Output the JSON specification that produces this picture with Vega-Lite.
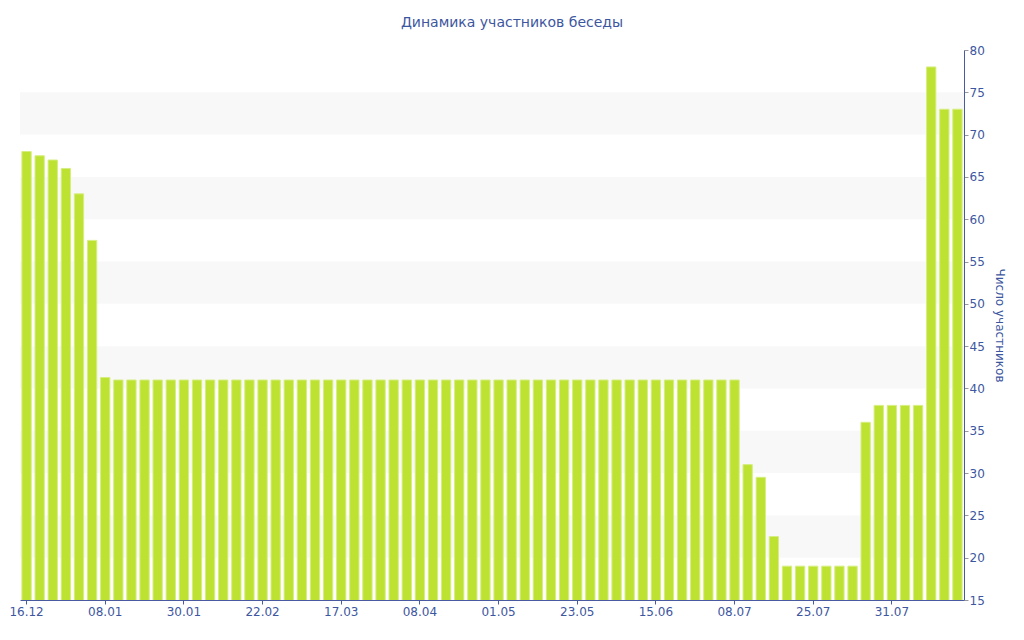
{
  "$schema": "https://vega.github.io/schema/vega-lite/v6.json",
  "description": "Динамика участников беседы",
  "autosize": "none",
  "width": 944,
  "height": 550,
  "padding": {"top": 50, "left": 20, "right": 60, "bottom": 40},
  "background": "#ffffff",
  "title": {
    "text": "Динамика участников беседы",
    "anchor": "middle",
    "dx": 20,
    "offset": 14,
    "font": "DejaVu Sans",
    "fontSize": 14,
    "fontWeight": "normal",
    "color": "#3d56a0"
  },
  "datasets": {
    "bands": [
      {"lo": 20, "hi": 25},
      {"lo": 30, "hi": 35},
      {"lo": 40, "hi": 45},
      {"lo": 50, "hi": 55},
      {"lo": 60, "hi": 65},
      {"lo": 70, "hi": 75}
    ],
    "members": [
      {"i": 0, "v": 68}, {"i": 1, "v": 67.5}, {"i": 2, "v": 67}, {"i": 3, "v": 66},
      {"i": 4, "v": 63}, {"i": 5, "v": 57.5}, {"i": 6, "v": 41.3}, {"i": 7, "v": 41},
      {"i": 8, "v": 41}, {"i": 9, "v": 41}, {"i": 10, "v": 41}, {"i": 11, "v": 41},
      {"i": 12, "v": 41}, {"i": 13, "v": 41}, {"i": 14, "v": 41}, {"i": 15, "v": 41},
      {"i": 16, "v": 41}, {"i": 17, "v": 41}, {"i": 18, "v": 41}, {"i": 19, "v": 41},
      {"i": 20, "v": 41}, {"i": 21, "v": 41}, {"i": 22, "v": 41}, {"i": 23, "v": 41},
      {"i": 24, "v": 41}, {"i": 25, "v": 41}, {"i": 26, "v": 41}, {"i": 27, "v": 41},
      {"i": 28, "v": 41}, {"i": 29, "v": 41}, {"i": 30, "v": 41}, {"i": 31, "v": 41},
      {"i": 32, "v": 41}, {"i": 33, "v": 41}, {"i": 34, "v": 41}, {"i": 35, "v": 41},
      {"i": 36, "v": 41}, {"i": 37, "v": 41}, {"i": 38, "v": 41}, {"i": 39, "v": 41},
      {"i": 40, "v": 41}, {"i": 41, "v": 41}, {"i": 42, "v": 41}, {"i": 43, "v": 41},
      {"i": 44, "v": 41}, {"i": 45, "v": 41}, {"i": 46, "v": 41}, {"i": 47, "v": 41},
      {"i": 48, "v": 41}, {"i": 49, "v": 41}, {"i": 50, "v": 41}, {"i": 51, "v": 41},
      {"i": 52, "v": 41}, {"i": 53, "v": 41}, {"i": 54, "v": 41}, {"i": 55, "v": 31},
      {"i": 56, "v": 29.5}, {"i": 57, "v": 22.5}, {"i": 58, "v": 19}, {"i": 59, "v": 19},
      {"i": 60, "v": 19}, {"i": 61, "v": 19}, {"i": 62, "v": 19}, {"i": 63, "v": 19},
      {"i": 64, "v": 36}, {"i": 65, "v": 38}, {"i": 66, "v": 38}, {"i": 67, "v": 38},
      {"i": 68, "v": 38}, {"i": 69, "v": 78}, {"i": 70, "v": 73}, {"i": 71, "v": 73}
    ]
  },
  "layer": [
    {
      "data": {"name": "bands"},
      "mark": {"type": "rect", "color": "#f8f8f8"},
      "encoding": {
        "y": {
          "field": "lo",
          "type": "quantitative",
          "title": "Число участников",
          "scale": {"domain": [15, 80], "zero": false, "nice": false}
        },
        "y2": {"field": "hi"}
      }
    },
    {
      "data": {"name": "members"},
      "mark": {"type": "bar", "clip": true, "color": "#bde232", "stroke": "#d6ee80", "strokeWidth": 1},
      "encoding": {
        "x": {
          "field": "i",
          "type": "ordinal",
          "scale": {"paddingInner": 0.29, "paddingOuter": 0.145},
          "title": null,
          "axis": {
            "values": [0, 6, 12, 18, 24, 30, 36, 42, 48, 54, 60, 66],
            "labelExpr": "['16.12','08.01','30.01','22.02','17.03','08.04','01.05','23.05','15.06','08.07','25.07','31.07'][datum.value / 6]",
            "labelAngle": 0,
            "labelFont": "DejaVu Sans",
            "labelFontSize": 12,
            "labelColor": "#3d56a0",
            "labelPadding": 2,
            "domainColor": "#4a5aa0",
            "tickColor": "#4a5aa0",
            "tickSize": 4
          }
        },
        "y": {
          "field": "v",
          "type": "quantitative",
          "title": "Число участников",
          "scale": {"domain": [15, 80], "zero": false, "nice": false},
          "axis": {
            "orient": "right",
            "titleFont": "DejaVu Sans",
            "titleFontSize": 12,
            "titleFontWeight": "normal",
            "titleColor": "#3d56a0",
            "titlePadding": 8,
            "values": [15, 17.5, 20, 22.5, 25, 27.5, 30, 32.5, 35, 37.5, 40, 42.5, 45, 47.5, 50, 52.5, 55, 57.5, 60, 62.5, 65, 67.5, 70, 72.5, 75, 77.5, 80],
            "labelExpr": "datum.value % 5 == 0 ? datum.label : ''",
            "labelFont": "DejaVu Sans",
            "labelFontSize": 12,
            "labelColor": "#3d56a0",
            "labelPadding": 1,
            "grid": false,
            "domainColor": "#4a5aa0",
            "tickColor": "#999999",
            "tickSize": 4
          }
        }
      }
    }
  ],
  "config": {
    "view": {"stroke": null}
  }
}
